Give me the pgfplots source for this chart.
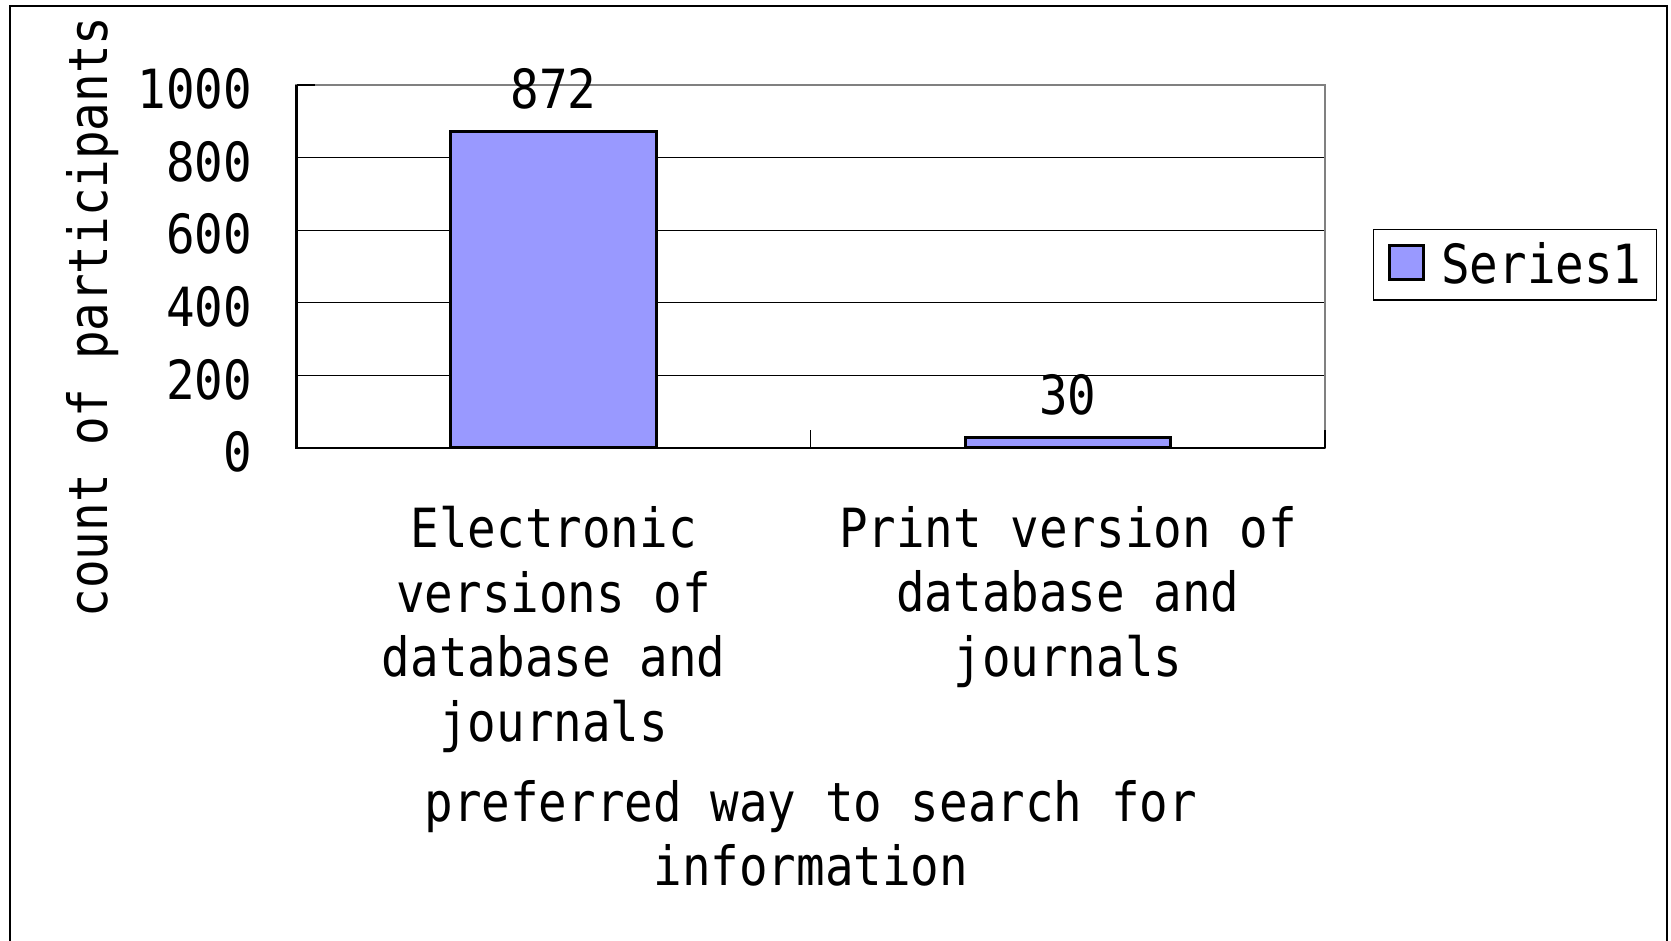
\documentclass[border=0pt]{standalone}
\usepackage{fontspec}
\setmainfont{DejaVu Sans Mono}[FakeStretch=0.88]
\usepackage{pgfplots}
\pgfplotsset{compat=1.18}
\definecolor{barblue}{HTML}{9999FF}
\newcommand\cf{\fontsize{27}{32.25}\selectfont}

\begin{document}
\begin{tikzpicture}
\begin{axis}[
  at={(148.25pt,246.5pt)}, anchor=south west,
  width=514.25pt, height=181.5pt, scale only axis,
  xmin=-0.5, xmax=1.5, ymin=0, ymax=1000,
  ybar, bar width=0.4,
  /pgf/number format/assume math mode=true,
  /pgf/number format/1000 sep={},
  tick align=inside, major tick length=9pt,
  xtick pos=bottom, ytick pos=left,
  ytick={0,200,...,1000},
  xtick={-0.5,0.5,1.5},
  xticklabels={,,},
  extra x ticks={0,1},
  extra x tick labels={{Electronic\\versions of\\database and\\journals},{Print version of\\database and\\journals}},
  extra x tick style={major tick length=0pt},
  tick style={black, line width=0.6pt},
  ymajorgrids, major grid style={black, line width=0.5pt},
  axis line style={draw=gray, line width=1.2pt},
  xticklabel style={align=center, anchor=north, inner sep=0pt, yshift=-29pt, font=\cf},
  yticklabel style={anchor=east, inner sep=0pt, xshift=-22pt, yshift=-2pt, font=\cf},
  xlabel={preferred way to search for\\information},
  xlabel style={at={(axis description cs:0.5,0)}, anchor=north, yshift=-166pt, inner sep=0pt, align=center, font=\cf},
  ylabel={count of participants},
  ylabel style={at={(axis description cs:-0.1842,0.3609)}, anchor=base, inner sep=0pt, font=\cf},
  nodes near coords,
  nodes near coords style={anchor=base, yshift=11.3pt, inner sep=0pt, font=\cf},
  legend style={at={(axis description cs:1.0464,0.6025)}, anchor=north west,
    draw=black, line width=0.6pt, font=\cf, inner xsep=7.5pt, inner ysep=6.5pt,
    nodes={inner sep=0pt},
    /tikz/every odd column/.append style={column sep=8pt}},
  legend image code/.code={\draw[#1, line width=1.5pt] (0pt,-7.5pt) rectangle (17pt,9.5pt);},
  extra description/.code={
    \draw[black, line width=1.2pt] (rel axis cs:0,1) -- (rel axis cs:0,0) -- (rel axis cs:1,0);
    \draw[black, line width=0.6pt] (rel axis cs:0,1) -- ++(9pt,0pt);
    \draw[black, line width=0.6pt] (rel axis cs:1,0) -- ++(0pt,9pt);
  },
]
\addplot[fill=barblue, draw=black, line width=1.5pt] coordinates {(0,872) (1,30)};
\addlegendentry{Series1}
\end{axis}
\draw[line width=1pt] (5pt,-2pt) -- (5pt,467.5pt) -- (833.5pt,467.5pt) -- (833.5pt,-2pt);
\pgfresetboundingbox
\path[use as bounding box] (0,0) rectangle (835.5pt,470.5pt);
\end{tikzpicture}
\end{document}
